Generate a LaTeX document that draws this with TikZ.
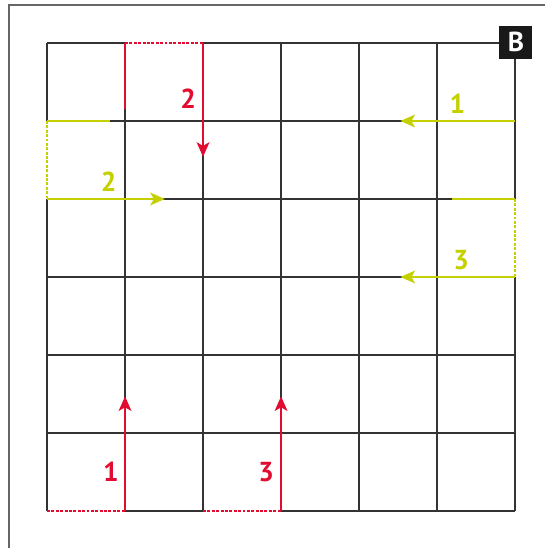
\documentclass[tikz,border=0pt]{standalone}
\usepackage{fontspec}
\setmainfont{PT Sans}
\usetikzlibrary{arrows.meta}

\definecolor{pathred}{RGB}{226,12,48}
\definecolor{pathlime}{RGB}{196,208,0}

\begin{document}
\begin{tikzpicture}[x=1.5cm, y=1.5cm,
    gridline/.style={line width=1.1pt, draw=black!80},
    redpath/.style={line width=0.9pt, draw=pathred},
    limepath/.style={line width=0.9pt, draw=pathlime},
    hop/.style={dash pattern=on 1.6pt off 0.8pt, preaction={draw=white, solid, line width=1.5pt}},
    tip/.style={-{Stealth[length=8pt, width=7pt, inset=2pt]}},
    rednum/.style={text=pathred, font=\bfseries\fontsize{15}{17}\selectfont},
    limenum/.style={text=pathlime, font=\bfseries\fontsize{15}{17}\selectfont},
    badge/.style={fill=black!90, text=white, minimum size=0.63cm, inner sep=0pt, font=\bfseries\fontsize{15}{17}\selectfont},
]
\useasboundingbox (-0.603,-0.474) rectangle (6.372,6.551);

% Frame
\draw[black!60, line width=1.1pt] (-0.491,-0.6) -- (-0.491,6.485) -- (6.5,6.485);

% Board
\draw[gridline, step=1.5cm] (0,0) grid (6,6);

% Red moves
\coordinate (r1a) at (0,0);
\coordinate (r1b) at (1,0);
\coordinate (r1c) at (1,1.47);
\coordinate (r2a) at (1,5.16);
\coordinate (r2b) at (1,6);
\coordinate (r2c) at (2,6);
\coordinate (r2d) at (2,4.54);
\coordinate (r3a) at (2,0);
\coordinate (r3b) at (3,0);
\coordinate (r3c) at (3,1.47);

\draw[redpath, hop] (r1a) -- (r1b);
\draw[redpath, tip] (r1b) -- (r1c);
\draw[redpath] (r2a) -- (r2b);
\draw[redpath, hop] (r2b) -- (r2c);
\draw[redpath, tip] (r2c) -- (r2d);
\draw[redpath, hop] (r3a) -- (r3b);
\draw[redpath, tip] (r3b) -- (r3c);

\node[rednum] (red1) at (0.82,0.5) {1};
\node[rednum] (red2) at (1.81,5.29) {2};
\node[rednum] (red3) at (2.81,0.5) {3};

% Lime moves
\coordinate (l1a) at (6,5);
\coordinate (l1b) at (4.53,5);
\coordinate (l2a) at (0.81,5);
\coordinate (l2b) at (0,5);
\coordinate (l2c) at (0,4);
\coordinate (l2d) at (1.51,4);
\coordinate (l3a) at (5.19,4);
\coordinate (l3b) at (6,4);
\coordinate (l3c) at (6,3);
\coordinate (l3d) at (4.53,3);

\draw[limepath, tip] (l1a) -- (l1b);
\draw[limepath] (l2a) -- (l2b);
\draw[limepath, hop] (l2b) -- (l2c);
\draw[limepath, tip] (l2c) -- (l2d);
\draw[limepath] (l3a) -- (l3b);
\draw[limepath, hop] (l3b) -- (l3c);
\draw[limepath, tip] (l3c) -- (l3d);

\node[limenum] (lime1) at (5.26,5.22) {1};
\node[limenum] (lime2) at (0.79,4.22) {2};
\node[limenum] (lime3) at (5.31,3.22) {3};

% Panel letter
\node[badge] (panel) at (6.01,6.01) {B};

\end{tikzpicture}
\end{document}
